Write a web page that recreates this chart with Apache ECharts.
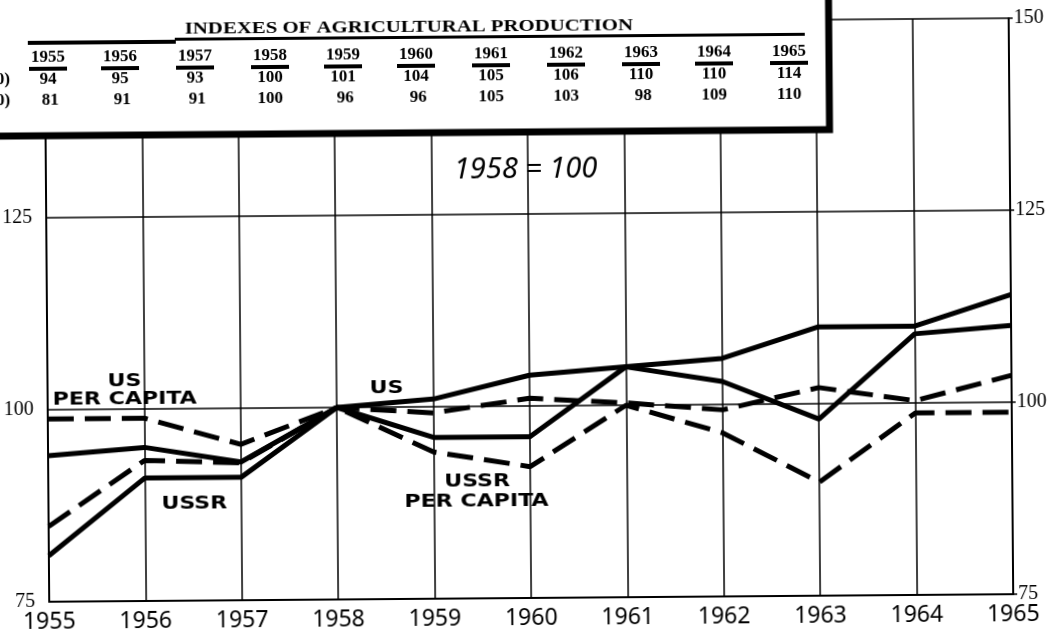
<!DOCTYPE html>
<html>
<head>
<meta charset="utf-8">
<script src="https://cdn.jsdelivr.net/npm/echarts@6/dist/echarts.min.js"></script>
<style>
  html, body { margin: 0; padding: 0; background: #fff; overflow: hidden; }
  /* the printed page is slightly tilted */
  #chart { width: 1051px; height: 634px; transform: rotate(-0.45deg); }
</style>
</head>
<body>
<div id="chart"></div>
<script>
// years on the x axis
const years = ["1955", "1956", "1957", "1958", "1959", "1960", "1961", "1962", "1963", "1964", "1965"];
// indexes, 1958 = 100 (from the table)
const usTotal = [94, 95, 93, 100, 101, 104, 105, 106, 110, 110, 114];
const ussrTotal = [81, 91, 91, 100, 96, 96, 105, 103, 98, 109, 110];
// per capita lines
const usPerCapita = [98.8, 98.8, 95.3, 100, 99.2, 101, 100.3, 99.3, 102.1, 100.3, 103.5];
const ussrPerCapita = [84.8, 93.3, 92.9, 100, 94.1, 92.1, 100, 96.3, 89.8, 98.7, 98.7];
// table rows (as printed)
const tableUS = ["94", "95", "93", "100", "101", "104", "105", "106", "110", "110", "114"];
const tableUSSR = ["81", "91", "91", "100", "96", "96", "105", "103", "98", "109", "110"];

const chart = echarts.init(document.getElementById("chart"));

// table columns
const colX = [50, 122, 197, 272, 345, 418, 493, 568, 643, 716, 791];
const tFont = "bold 17px 'Liberation Serif'";
const tableItems = [];
years.forEach((y, i) => {
  tableItems.push({
    type: "text", z: 102, x: colX[i], y: 54,
    style: { text: y, font: tFont, fill: "#000", align: "center", verticalAlign: "middle" }
  });
  tableItems.push({
    type: "rect", z: 102, shape: { x: colX[i] - 19, y: 63, width: 38, height: 4 },
    style: { fill: "#000" }
  });
  tableItems.push({
    type: "text", z: 102, x: colX[i], y: 76,
    style: { text: tableUS[i], font: tFont, fill: "#000", align: "center", verticalAlign: "middle" }
  });
  tableItems.push({
    type: "text", z: 102, x: colX[i] + (tableUSSR[i].length < 3 ? 2 : 0), y: 97,
    style: { text: tableUSSR[i], font: tFont, fill: "#000", align: "center", verticalAlign: "middle" }
  });
});

const labelFont = "bold 17px 'DejaVu Sans'";
const lbl = (text, x, y) => ({
  type: "text", z: 50, x: x, y: y, scaleX: 1.3,
  style: { text: text, font: labelFont, fill: "#000", align: "left", verticalAlign: "middle" }
});

const option = {
  backgroundColor: "#fff",
  animation: false,
  grid: { left: 46, right: 40, top: 22, bottom: 36 },
  xAxis: {
    type: "category",
    data: years,
    boundaryGap: false,
    axisLine: { show: true, lineStyle: { color: "#000", width: 2 } },
    axisTick: { show: false },
    axisLabel: { color: "#000", fontSize: 23, fontFamily: "Noto Sans", margin: 9, showMinLabel: true, showMaxLabel: true },
    splitLine: { show: true, lineStyle: { color: "#000", width: 1.5 } }
  },
  yAxis: [
    {
      type: "value", min: 75, max: 150, interval: 25,
      axisLine: { show: true, lineStyle: { color: "#000", width: 2 } },
      axisTick: { show: false },
      axisLabel: { color: "#000", fontSize: 20, fontFamily: "Liberation Serif", margin: 14 },
      splitLine: { show: true, lineStyle: { color: "#000", width: 1.5 } }
    },
    {
      type: "value", min: 75, max: 150, interval: 25, position: "right",
      axisLine: { show: true, lineStyle: { color: "#000", width: 2 } },
      axisTick: { show: true, length: 4, lineStyle: { color: "#000", width: 1.5 } },
      axisLabel: { color: "#000", fontSize: 20, fontFamily: "Liberation Serif", margin: 5 },
      splitLine: { show: false }
    }
  ],
  series: [
    { name: "US", type: "line", data: usTotal, symbol: "none", lineStyle: { color: "#000", width: 5 }, z: 5 },
    { name: "USSR", type: "line", data: ussrTotal, symbol: "none", lineStyle: { color: "#000", width: 5 }, z: 5 },
    { name: "US per capita", type: "line", data: usPerCapita, symbol: "none", lineStyle: { color: "#000", width: 5, type: [26, 11] }, z: 5 },
    { name: "USSR per capita", type: "line", data: ussrPerCapita, symbol: "none", lineStyle: { color: "#000", width: 5, type: [26, 11] }, z: 5 }
  ],
  graphic: [
    // table box
    { type: "rect", z: 100, shape: { x: -12, y: -12, width: 843, height: 144 },
      style: { fill: "#fff", stroke: "#000", lineWidth: 7 } },
    { type: "text", z: 102, x: 187, y: 27, scaleX: 1.3,
      style: { text: "INDEXES OF AGRICULTURAL PRODUCTION", font: "bold 16px 'Liberation Serif'", fill: "#000", align: "left", verticalAlign: "middle" } },
    { type: "rect", z: 102, shape: { x: 30, y: 37, width: 148, height: 4 }, style: { fill: "#000" } },
    { type: "rect", z: 102, shape: { x: 177, y: 35, width: 630, height: 3 }, style: { fill: "#000" } },
    { type: "text", z: 102, x: 12, y: 76,
      style: { text: "(1958=100)", font: tFont, fill: "#000", align: "right", verticalAlign: "middle" } },
    { type: "text", z: 102, x: 12, y: 97,
      style: { text: "(1958=100)", font: tFont, fill: "#000", align: "right", verticalAlign: "middle" } },
    ...tableItems,
    // annotations
    { type: "text", z: 50, x: 455, y: 170,
      style: { text: "1958 = 100", font: "italic 29px 'Noto Sans'", fill: "#000", align: "left", verticalAlign: "middle" } },
    lbl("US", 107, 379),
    lbl("PER CAPITA", 52, 397),
    lbl("US", 369, 388),
    lbl("USSR", 160, 502),
    lbl("USSR", 443, 482),
    lbl("PER CAPITA", 403, 502)
  ]
};

chart.setOption(option);
</script>
</body>
</html>
